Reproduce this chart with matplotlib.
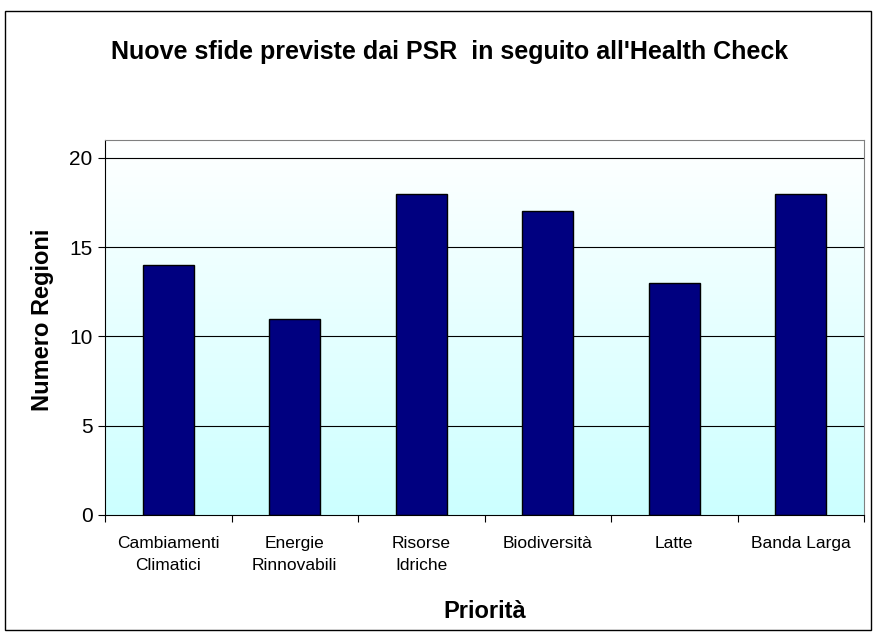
import numpy as np
import matplotlib.pyplot as plt
from matplotlib.patches import Rectangle

plt.rcParams['font.family'] = ['Liberation Sans', 'DejaVu Sans']

categorie = ['Cambiamenti\nClimatici', 'Energie\nRinnovabili', 'Risorse\nIdriche',
             'Biodiversità', 'Latte', 'Banda Larga']
regioni = [14, 11, 18, 17, 13, 18]

W, H = 874, 635
fig = plt.figure(figsize=(W/100, H/100), dpi=100)
ax = fig.add_axes([105/W, 1-515/H, (864-105)/W, (515-140)/H])

x = np.arange(len(categorie))
ymax = 21

# gradient background, white on top, light cyan at bottom
grad = np.linspace(0, 1, 256).reshape(-1, 1)
top = np.array([1.0, 1.0, 1.0])
bot = np.array([0.80, 1.0, 1.0])
img = bot + (top - bot) * grad
ax.imshow(img[:, None, :].repeat(2, axis=1), extent=[-0.5, len(x)-0.5, 0, ymax],
          origin='lower', aspect='auto', zorder=0)

for g in [5, 10, 15, 20]:
    ax.axhline(g, color='black', lw=0.8, zorder=1)

ax.bar(x, regioni, width=0.4, color='#000080', edgecolor='black', lw=1, zorder=2)

ax.set_xlim(-0.5, len(x)-0.5)
ax.set_ylim(0, ymax)
ax.set_yticks([0, 5, 10, 15, 20])
ax.tick_params(axis='y', labelsize=15, length=5, direction='out', width=0.8, pad=4)
ax.set_xticks(x)
ax.set_xticklabels(categorie, fontsize=12.5, linespacing=1.6)
ax.set_xticks(np.arange(len(x)+1) - 0.5, minor=True)
ax.tick_params(axis='x', which='major', length=0, pad=15)
ax.tick_params(axis='x', which='minor', length=5, width=0.8)

ax.spines['top'].set_color('#808080')
ax.spines['right'].set_color('#808080')
ax.spines['left'].set_linewidth(0.8)
ax.spines['bottom'].set_linewidth(0.8)

fig.text(43/W, 1-320/H, 'Numero Regioni', fontsize=17, fontweight='bold',
         rotation=90, ha='center', va='center')
fig.text(485/W, 1-612/H, 'Priorità', fontsize=17, fontweight='bold',
         ha='center', va='center')
fig.text(450/W, 1-52/H, "Nuove sfide previste dai PSR  in seguito all'Health Check",
         fontsize=18, fontweight='bold', ha='center', va='center')

# outer frame of the chart
fig.patches.append(Rectangle((5/W, 5/H), 866/W, 619/H, transform=fig.transFigure,
                             fill=False, edgecolor='black', lw=1))

plt.savefig('out.png', dpi=100)
